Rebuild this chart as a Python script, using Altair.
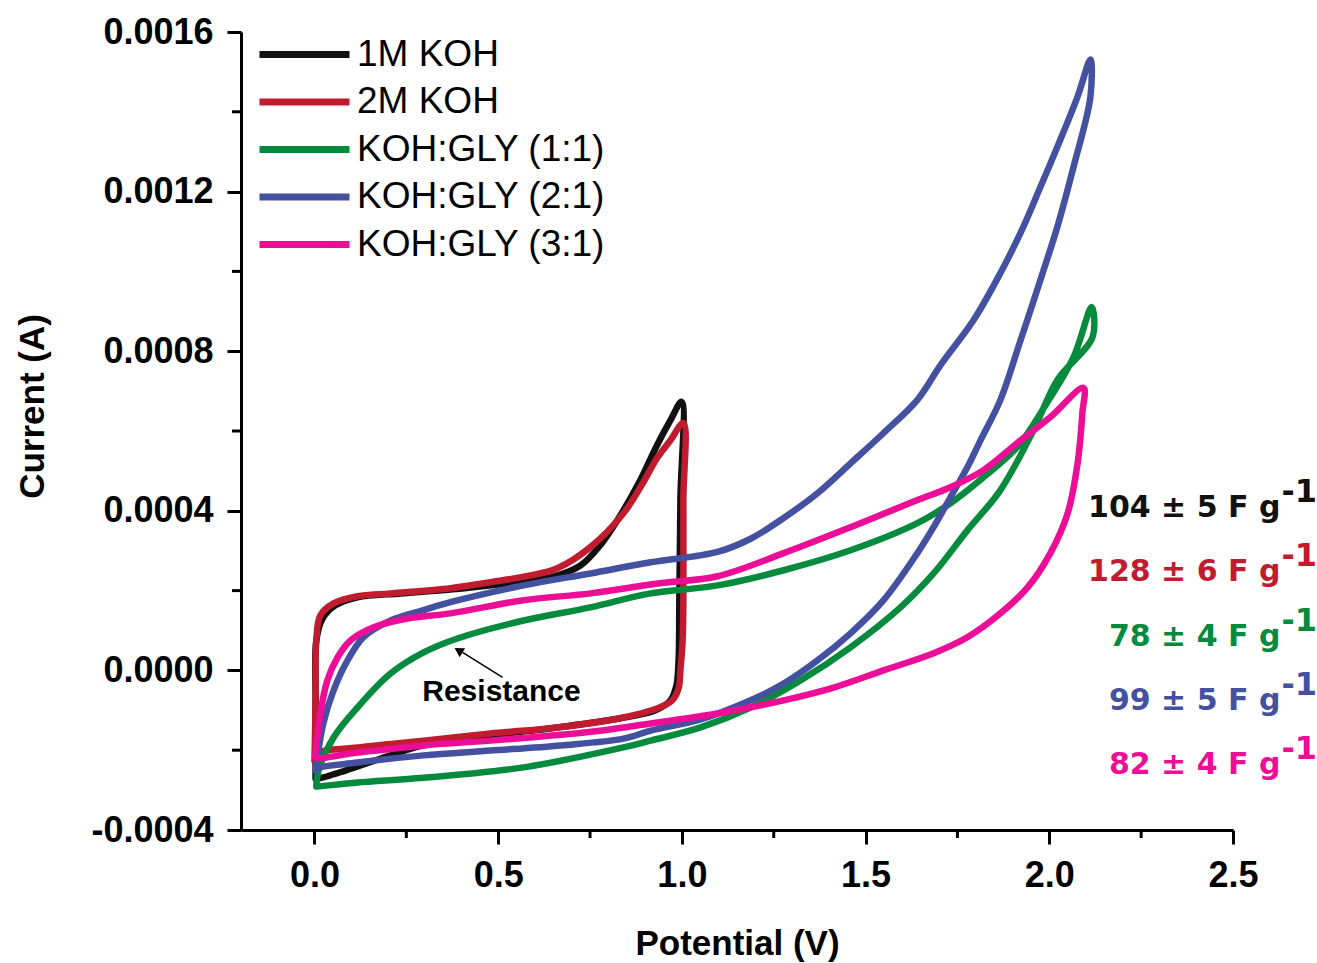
import altair as alt
import pandas as pd

# ---- series ----
series_names = ["1M KOH", "2M KOH", "KOH:GLY (1:1)", "KOH:GLY (2:1)", "KOH:GLY (3:1)"]
series_colors = ["#111111", "#C01B2F", "#068B3E", "#4451A1", "#EC0E96"]

# Cyclic voltammograms: potential (V) and current (µA), traced around each closed loop
koh1_v = [0.003, 0.003, 0.005, 0.022, 0.057, 0.117, 0.234, 0.370, 0.506, 0.642, 0.724, 0.778,
          0.833, 0.887, 0.931, 0.969, 0.999,
          0.996, 0.993, 0.991, 0.985, 0.969, 0.928, 0.833, 0.661, 0.479, 0.297, 0.180, 0.084,
          0.011, 0.003]
koh1_i = [-271, -75, 75, 130, 163, 183, 193, 203, 216, 233, 263, 314,
          389, 477, 562, 627, 673,
          427, 176, 25, -38, -75, -100, -120, -143, -163, -188, -221, -251,
          -271, -271]

koh2_v = [0.000, 0.003, 0.005, 0.016, 0.052, 0.117, 0.207, 0.370, 0.479, 0.588, 0.661, 0.751,
          0.841, 0.887, 0.934, 0.969, 1.004,
          1.004, 1.004, 1.002, 0.996, 0.991, 0.974, 0.934, 0.841, 0.661, 0.479, 0.297, 0.117,
          0.008, 0.000]
koh2_i = [-226, -75, 75, 138, 168, 186, 193, 206, 221, 238, 256, 309,
          394, 459, 534, 577, 620,
          427, 176, 75, 0, -45, -75, -95, -118, -143, -158, -176, -193,
          -208, -226]

gly11_v = [0.005, 0.011, 0.052, 0.117, 0.207, 0.297, 0.389, 0.569, 0.751, 0.915, 1.097, 1.277,
           1.459, 1.641, 1.731, 1.821, 1.913, 1.990, 2.066, 2.115,
           2.118, 2.022, 1.957, 1.867, 1.777, 1.685, 1.595, 1.459, 1.323, 1.187, 1.051, 0.915,
           0.841, 0.569, 0.297, 0.117, 0.008, 0.005]
gly11_i = [-291, -251, -168, -93, -8, 45, 80, 125, 158, 193, 213, 251,
           301, 369, 419, 484, 560, 665, 785, 911,
           836, 728, 602, 452, 351, 243, 158, 58, -25, -93, -143, -176,
           -193, -243, -269, -281, -291, -291]

gly21_v = [0.003, 0.024, 0.052, 0.090, 0.133, 0.207, 0.297, 0.370, 0.569, 0.751, 0.915, 1.097,
           1.187, 1.277, 1.369, 1.459, 1.549, 1.641, 1.704, 1.794, 1.867, 1.922, 1.976, 2.030,
           2.077, 2.112,
           2.112, 2.066, 2.022, 1.976, 1.922, 1.867, 1.813, 1.777, 1.731, 1.685, 1.641, 1.549,
           1.459, 1.369, 1.277, 1.187, 1.051, 0.915, 0.841, 0.670, 0.479, 0.297, 0.117, 0.005,
           0.003]
gly21_i = [-251, -133, -50, 25, 83, 125, 151, 171, 213, 243, 271, 297,
           330, 382, 444, 519, 595, 678, 765, 878, 996, 1097, 1212, 1330,
           1438, 1531,
           1438, 1262, 1112, 979, 828, 678, 577, 509, 434, 359, 294, 176,
           93, 25, -33, -75, -123, -151, -171, -188, -201, -213, -231, -246,
           -251]

gly31_v = [0.003, 0.016, 0.035, 0.063, 0.098, 0.161, 0.253, 0.370, 0.569, 0.751, 0.934, 1.097,
           1.277, 1.459, 1.641, 1.731, 1.821, 1.913, 2.003, 2.093,
           2.090, 2.077, 2.050, 2.003, 1.941, 1.867, 1.777, 1.685, 1.549, 1.413, 1.277, 1.097,
           0.915, 0.778, 0.479, 0.297, 0.117, 0.003, 0.003]
gly31_i = [-208, -108, -25, 33, 75, 108, 130, 143, 176, 193, 218, 236,
           294, 359, 427, 459, 502, 570, 635, 708,
           645, 519, 394, 294, 208, 143, 83, 43, 0, -43, -75, -108,
           -133, -151, -176, -188, -206, -218, -208]

# specific capacitance of each electrolyte
cap_values = [104, 128, 78, 99, 82]
cap_errors = [5, 6, 4, 5, 4]

x_major = [0.0, 0.5, 1.0, 1.5, 2.0, 2.5]
x_minor = [0.25, 0.75, 1.25, 1.75, 2.25]
y_major = [-0.0004, 0.0, 0.0004, 0.0008, 0.0012, 0.0016]
y_minor = [-0.0002, 0.0002, 0.0006, 0.0010, 0.0014]

# ---- tidy table ----
loops = [(koh1_v, koh1_i), (koh2_v, koh2_i), (gly11_v, gly11_i), (gly21_v, gly21_i), (gly31_v, gly31_i)]
rows = []
for name, (vs, cs) in zip(series_names, loops):
    for k, (v, c) in enumerate(zip(vs, cs)):
        rows.append({"series": name, "idx": k, "V": v, "I": c * 1e-6})
cv = pd.DataFrame(rows)

W, H = 992, 798
FONT = "Liberation Sans"

x_scale = alt.Scale(domain=[-0.2, 2.5], nice=False, zero=False)
y_scale = alt.Scale(domain=[-0.0004, 0.0016], nice=False, zero=False)

x_axis = alt.Axis(values=x_major, format=".1f", labelFont=FONT, labelFontSize=36, labelFontWeight="bold",
                  labelColor="black", labelPadding=14, labelFlush=False, tickSize=14, tickWidth=3,
                  tickColor="black", domainColor="black", domainWidth=3, grid=False,
                  title="Potential (V)", titleFont=FONT, titleFontSize=35, titleFontWeight="bold",
                  titleColor="black", titleY=124, titleBaseline="alphabetic")
y_axis = alt.Axis(values=y_major,
                  labelExpr="(datum.value < 0 ? '-' : '') + format(abs(datum.value), '.4f')",
                  labelFont=FONT, labelFontSize=36, labelFontWeight="bold", labelColor="black",
                  labelPadding=14, labelFlush=False, tickSize=14, tickWidth=3, tickColor="black",
                  domainColor="black", domainWidth=3, grid=False,
                  title="Current (A)", titleFont=FONT, titleFontSize=35, titleFontWeight="bold",
                  titleColor="black", titleAngle=270, titleX=-198, titleY=374,
                  titleBaseline="alphabetic", titleAlign="center")


def xy(xfield="V", yfield="I"):
    """Shared x/y encodings so every layer uses the same scales and axes."""
    return dict(x=alt.X(f"{xfield}:Q", scale=x_scale, axis=x_axis),
                y=alt.Y(f"{yfield}:Q", scale=y_scale, axis=y_axis))


legend = alt.Legend(title=None, orient="none", legendX=75, legendY=4, direction="vertical",
                    symbolType="M-5,0L1,0", symbolSize=900, symbolStrokeWidth=7,
                    labelFont=FONT, labelFontSize=37, labelColor="black", labelOffset=4,
                    labelLimit=500, rowPadding=9.5, padding=0)

curves = alt.Chart(cv).mark_line(strokeWidth=6.5, strokeJoin="round", strokeCap="round",
                                 interpolate="catmull-rom").encode(
    **xy(),
    color=alt.Color("series:N", scale=alt.Scale(domain=series_names, range=series_colors),
                    legend=legend),
    order=alt.Order("idx:Q"),
)

# minor ticks
minor_y = alt.Chart(pd.DataFrame({"I": y_minor})).mark_rule(color="black", strokeWidth=3).encode(
    y=alt.Y("I:Q", scale=y_scale, axis=y_axis),
    x=alt.value(-9), x2=alt.value(0),
)
minor_x = alt.Chart(pd.DataFrame({"V": x_minor})).mark_rule(color="black", strokeWidth=3).encode(
    x=alt.X("V:Q", scale=x_scale, axis=x_axis),
    y=alt.value(H), y2=alt.value(H + 8),
)

# "Resistance" annotation with arrow
arrow_df = pd.DataFrame({"V": [0.512], "I": [-17.6e-6], "V2": [0.403], "I2": [45e-6]})
arrow_line = alt.Chart(arrow_df).mark_rule(color="black", strokeWidth=1.5).encode(
    **xy(), x2="V2:Q", y2="I2:Q",
)
arrow_head = alt.Chart(pd.DataFrame({"V": [0.392], "I": [50e-6]})).mark_point(
    shape="triangle-up", filled=True, color="black", size=110, angle=301.7, opacity=1
).encode(**xy())
resist = alt.Chart(pd.DataFrame({"V": [0.509], "I": [-55e-6], "t": ["Resistance"]})).mark_text(
    font=FONT, fontSize=30, fontWeight="bold", color="black", baseline="middle", align="center"
).encode(**xy(), text="t:N")

# capacitance labels, one row per electrolyte
cap_rows = []
for k, (name, val, err) in enumerate(zip(series_names, cap_values, cap_errors)):
    cap_rows.append({"series": name, "main": f"{val} \u00b1 {err} F g", "sup": "-1",
                     "V": 2.629, "I": (384 - 160.9 * k) * 1e-6})
cap_df = pd.DataFrame(cap_rows)
cap_color = alt.Color("series:N", scale=alt.Scale(domain=series_names, range=series_colors), legend=None)
cap_main = alt.Chart(cap_df).mark_text(
    font="DejaVu Sans", fontSize=30, fontWeight="bold", align="right", baseline="alphabetic"
).encode(**xy(), text="main:N", color=cap_color)
cap_sup = alt.Chart(cap_df).mark_text(
    font="DejaVu Sans", fontSize=32, fontWeight="bold", align="left", baseline="alphabetic", dx=1, dy=-15
).encode(**xy(), text="sup:N", color=cap_color)

chart = alt.layer(curves, minor_y, minor_x, arrow_line, arrow_head, resist, cap_main, cap_sup).properties(
    width=W, height=H,
    padding={"left": 241, "top": 32, "right": 84, "bottom": 133},
    autosize=alt.AutoSizeParams(type="none"),
    view=alt.ViewBackground(stroke="transparent", strokeWidth=0),
).configure_view(stroke="transparent", strokeWidth=0).configure(background="white")

chart.save("out.html", embed_options={"renderer": "svg", "actions": False})
